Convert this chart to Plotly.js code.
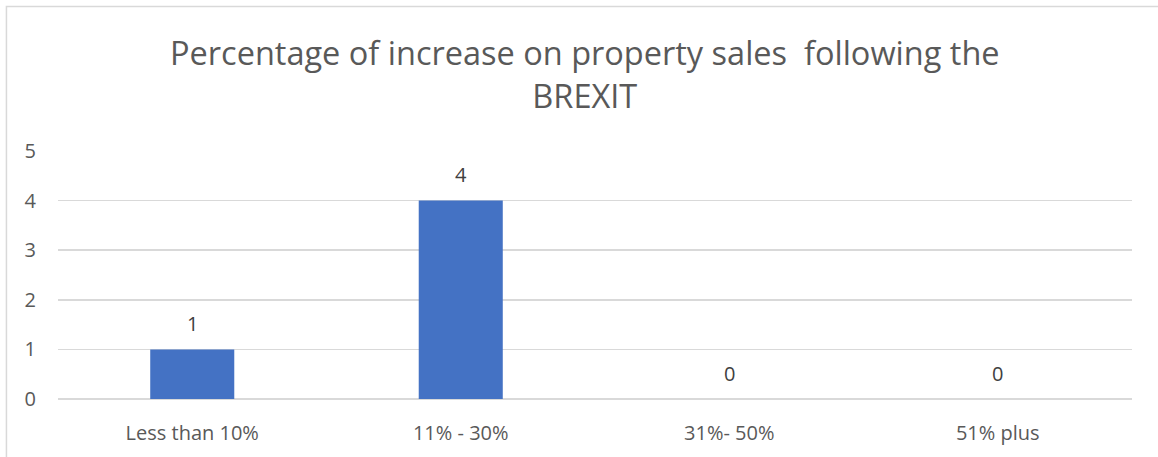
<!DOCTYPE html>
<html>
<head>
<meta charset="utf-8">
<script src="https://cdn.plot.ly/plotly-3.0.1.min.js"></script>
<style>html,body{margin:0;padding:0;background:#fff;}#chart{width:1158px;height:457px;}</style>
</head>
<body>
<div id="chart"></div>
<script>
const categories = ["Less than 10%", "11% - 30%", "31%- 50%", "51% plus"];
const values = [1, 4, 0, 0];
const yTicks = [0, 1, 2, 3, 4, 5];

const font = "Open Sans, Liberation Sans, sans-serif";
const trace = {
  type: "bar",
  x: categories,
  y: values,
  marker: {color: "#4472C4"},
  hoverinfo: "none"
};
const labels = categories.map((c, i) => ({
  x: c, y: values[i], xref: "x", yref: "y",
  text: String(values[i]), showarrow: false,
  yanchor: "middle", yshift: 26,
  font: {family: font, size: 20, color: "#404040"}
}));
const layout = {
  width: 1158, height: 457,
  margin: {l: 58, r: 26, t: 151, b: 58},
  paper_bgcolor: "#ffffff", plot_bgcolor: "#ffffff",
  title: {
    text: "Percentage of increase on property sales  following the<br>BREXIT",
    font: {family: font, size: 32.5, color: "#595959"},
    x: 0.505, xanchor: "center", y: 0.857, yref: "container", yanchor: "middle"
  },
  bargap: 0.687,
  showlegend: false,
  annotations: labels,
  xaxis: {
    showgrid: false, showline: false, zeroline: false, ticks: "",
    tickfont: {family: font, size: 20, color: "#595959"},
    ticklabelstandoff: 20
  },
  yaxis: {
    range: [0, 5], tickvals: yTicks, showgrid: true, gridcolor: "#d9d9d9", gridwidth: 1.5,
    zeroline: true, zerolinecolor: "#d9d9d9", zerolinewidth: 1.5, showline: false, ticks: "",
    tickfont: {family: font, size: 20, color: "#595959"},
    ticklabelstandoff: 21
  },
  shapes: [{
    type: "rect", xref: "paper", yref: "paper",
    x0: -0.048, x1: 1.03, y0: -0.26, y1: 1.583,
    line: {color: "#d9d9d9", width: 1.5}, fillcolor: "rgba(0,0,0,0)", layer: "below"
  }]
};
Plotly.newPlot("chart", [trace], layout, {displayModeBar: false, staticPlot: true});
</script>
</body>
</html>
